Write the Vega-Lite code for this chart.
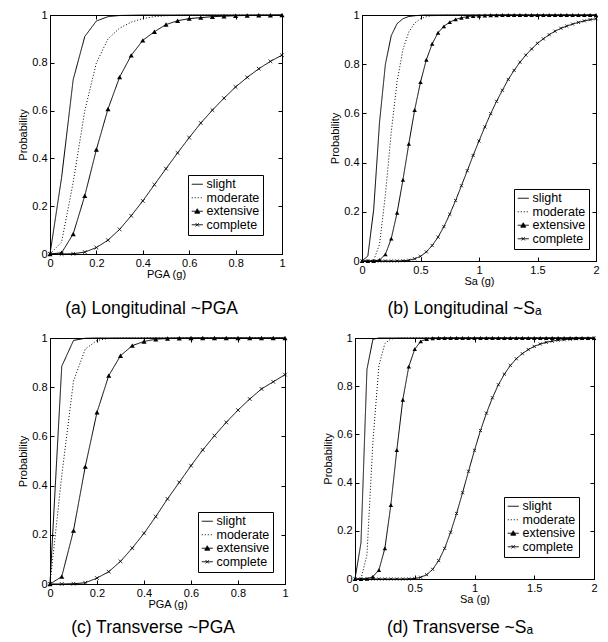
{
"$schema": "https://vega.github.io/schema/vega-lite/v6.json",
"padding": {"left": 17, "top": 8, "right": 2, "bottom": 2},
"background": "white",
"datasets": {
"a": [
{"x":0,"slight":0,"moderate":0,"extensive":0,"complete":0},
{"x":0.05,"slight":0.32,"moderate":0.05,"extensive":0.005,"complete":0},
{"x":0.1,"slight":0.73,"moderate":0.3,"extensive":0.084,"complete":0.001},
{"x":0.15,"slight":0.91,"moderate":0.6,"extensive":0.244,"complete":0.008},
{"x":0.2,"slight":0.975,"moderate":0.8,"extensive":0.437,"complete":0.027},
{"x":0.25,"slight":0.993,"moderate":0.9,"extensive":0.607,"complete":0.058},
{"x":0.3,"slight":0.998,"moderate":0.945,"extensive":0.74,"complete":0.103},
{"x":0.35,"slight":0.999,"moderate":0.97,"extensive":0.831,"complete":0.16},
{"x":0.4,"slight":1,"moderate":0.985,"extensive":0.894,"complete":0.222},
{"x":0.45,"slight":1,"moderate":0.993,"extensive":0.93,"complete":0.29},
{"x":0.5,"slight":1,"moderate":0.997,"extensive":0.96,"complete":0.357},
{"x":0.55,"slight":1,"moderate":0.999,"extensive":0.976,"complete":0.423},
{"x":0.6,"slight":1,"moderate":1,"extensive":0.985,"complete":0.487},
{"x":0.65,"slight":1,"moderate":1,"extensive":0.989,"complete":0.548},
{"x":0.7,"slight":1,"moderate":1,"extensive":0.993,"complete":0.602},
{"x":0.75,"slight":1,"moderate":1,"extensive":0.995,"complete":0.652},
{"x":0.8,"slight":1,"moderate":1,"extensive":0.997,"complete":0.699},
{"x":0.85,"slight":1,"moderate":1,"extensive":0.998,"complete":0.739},
{"x":0.9,"slight":1,"moderate":1,"extensive":0.999,"complete":0.775},
{"x":0.95,"slight":1,"moderate":1,"extensive":0.999,"complete":0.806},
{"x":1,"slight":1,"moderate":1,"extensive":1,"complete":0.832}
],
"b": [
{"x":0,"slight":0,"moderate":0,"extensive":0,"complete":0},
{"x":0.05,"slight":0.02,"moderate":0,"extensive":0,"complete":0},
{"x":0.1,"slight":0.21,"moderate":0.003,"extensive":0,"complete":0},
{"x":0.15,"slight":0.565,"moderate":0.068,"extensive":0.004,"complete":0},
{"x":0.2,"slight":0.8,"moderate":0.269,"extensive":0.027,"complete":0},
{"x":0.25,"slight":0.916,"moderate":0.524,"extensive":0.091,"complete":0},
{"x":0.3,"slight":0.965,"moderate":0.73,"extensive":0.196,"complete":0},
{"x":0.35,"slight":0.985,"moderate":0.86,"extensive":0.33,"complete":0.001},
{"x":0.4,"slight":0.994,"moderate":0.931,"extensive":0.476,"complete":0.003},
{"x":0.45,"slight":0.997,"moderate":0.967,"extensive":0.614,"complete":0.009},
{"x":0.5,"slight":0.999,"moderate":0.985,"extensive":0.727,"complete":0.019},
{"x":0.55,"slight":1,"moderate":0.993,"extensive":0.818,"complete":0.037},
{"x":0.6,"slight":1,"moderate":0.997,"extensive":0.883,"complete":0.063},
{"x":0.65,"slight":1,"moderate":0.998,"extensive":0.928,"complete":0.097},
{"x":0.7,"slight":1,"moderate":0.999,"extensive":0.954,"complete":0.14},
{"x":0.75,"slight":1,"moderate":1,"extensive":0.971,"complete":0.19},
{"x":0.8,"slight":1,"moderate":1,"extensive":0.982,"complete":0.246},
{"x":0.85,"slight":1,"moderate":1,"extensive":0.989,"complete":0.306},
{"x":0.9,"slight":1,"moderate":1,"extensive":0.993,"complete":0.367},
{"x":0.95,"slight":1,"moderate":1,"extensive":0.996,"complete":0.429},
{"x":1,"slight":1,"moderate":1,"extensive":0.997,"complete":0.488},
{"x":1.05,"slight":1,"moderate":1,"extensive":0.998,"complete":0.545},
{"x":1.1,"slight":1,"moderate":1,"extensive":0.999,"complete":0.599},
{"x":1.15,"slight":1,"moderate":1,"extensive":0.999,"complete":0.649},
{"x":1.2,"slight":1,"moderate":1,"extensive":1,"complete":0.694},
{"x":1.25,"slight":1,"moderate":1,"extensive":1,"complete":0.738},
{"x":1.3,"slight":1,"moderate":1,"extensive":1,"complete":0.775},
{"x":1.35,"slight":1,"moderate":1,"extensive":1,"complete":0.808},
{"x":1.4,"slight":1,"moderate":1,"extensive":1,"complete":0.837},
{"x":1.45,"slight":1,"moderate":1,"extensive":1,"complete":0.862},
{"x":1.5,"slight":1,"moderate":1,"extensive":1,"complete":0.885},
{"x":1.55,"slight":1,"moderate":1,"extensive":1,"complete":0.903},
{"x":1.6,"slight":1,"moderate":1,"extensive":1,"complete":0.92},
{"x":1.65,"slight":1,"moderate":1,"extensive":1,"complete":0.934},
{"x":1.7,"slight":1,"moderate":1,"extensive":1,"complete":0.946},
{"x":1.75,"slight":1,"moderate":1,"extensive":1,"complete":0.955},
{"x":1.8,"slight":1,"moderate":1,"extensive":1,"complete":0.963},
{"x":1.85,"slight":1,"moderate":1,"extensive":1,"complete":0.97},
{"x":1.9,"slight":1,"moderate":1,"extensive":1,"complete":0.976},
{"x":1.95,"slight":1,"moderate":1,"extensive":1,"complete":0.981},
{"x":2,"slight":1,"moderate":1,"extensive":1,"complete":0.985}
],
"c": [
{"x":0,"slight":0,"moderate":0,"extensive":0,"complete":0},
{"x":0.05,"slight":0.885,"moderate":0.44,"extensive":0.03,"complete":0},
{"x":0.1,"slight":0.99,"moderate":0.825,"extensive":0.217,"complete":0.001},
{"x":0.15,"slight":0.999,"moderate":0.955,"extensive":0.477,"complete":0.005},
{"x":0.2,"slight":1,"moderate":0.99,"extensive":0.698,"complete":0.024},
{"x":0.25,"slight":1,"moderate":0.998,"extensive":0.847,"complete":0.05},
{"x":0.3,"slight":1,"moderate":1,"extensive":0.928,"complete":0.092},
{"x":0.35,"slight":1,"moderate":1,"extensive":0.969,"complete":0.146},
{"x":0.4,"slight":1,"moderate":1,"extensive":0.986,"complete":0.206},
{"x":0.45,"slight":1,"moderate":1,"extensive":0.995,"complete":0.274},
{"x":0.5,"slight":1,"moderate":1,"extensive":0.998,"complete":0.346},
{"x":0.55,"slight":1,"moderate":1,"extensive":0.999,"complete":0.413},
{"x":0.6,"slight":1,"moderate":1,"extensive":1,"complete":0.481},
{"x":0.65,"slight":1,"moderate":1,"extensive":1,"complete":0.545},
{"x":0.7,"slight":1,"moderate":1,"extensive":1,"complete":0.603},
{"x":0.75,"slight":1,"moderate":1,"extensive":1,"complete":0.657},
{"x":0.8,"slight":1,"moderate":1,"extensive":1,"complete":0.707},
{"x":0.85,"slight":1,"moderate":1,"extensive":1,"complete":0.752},
{"x":0.9,"slight":1,"moderate":1,"extensive":1,"complete":0.793},
{"x":0.95,"slight":1,"moderate":1,"extensive":1,"complete":0.822},
{"x":1,"slight":1,"moderate":1,"extensive":1,"complete":0.851}
],
"d": [
{"x":0,"slight":0,"moderate":0,"extensive":0,"complete":0},
{"x":0.05,"slight":0.15,"moderate":0,"extensive":0,"complete":0},
{"x":0.1,"slight":0.87,"moderate":0.1,"extensive":0.001,"complete":0},
{"x":0.15,"slight":0.995,"moderate":0.57,"extensive":0.01,"complete":0},
{"x":0.2,"slight":1,"moderate":0.885,"extensive":0.037,"complete":0},
{"x":0.25,"slight":1,"moderate":0.977,"extensive":0.127,"complete":0},
{"x":0.3,"slight":1,"moderate":0.996,"extensive":0.307,"complete":0},
{"x":0.35,"slight":1,"moderate":0.999,"extensive":0.535,"complete":0},
{"x":0.4,"slight":1,"moderate":1,"extensive":0.744,"complete":0},
{"x":0.45,"slight":1,"moderate":1,"extensive":0.881,"complete":0.0005},
{"x":0.5,"slight":1,"moderate":1,"extensive":0.954,"complete":0.002},
{"x":0.55,"slight":1,"moderate":1,"extensive":0.986,"complete":0.007},
{"x":0.6,"slight":1,"moderate":1,"extensive":0.996,"complete":0.018},
{"x":0.65,"slight":1,"moderate":1,"extensive":0.999,"complete":0.04},
{"x":0.7,"slight":1,"moderate":1,"extensive":1,"complete":0.076},
{"x":0.75,"slight":1,"moderate":1,"extensive":1,"complete":0.127},
{"x":0.8,"slight":1,"moderate":1,"extensive":1,"complete":0.194},
{"x":0.85,"slight":1,"moderate":1,"extensive":1,"complete":0.272},
{"x":0.9,"slight":1,"moderate":1,"extensive":1,"complete":0.358},
{"x":0.95,"slight":1,"moderate":1,"extensive":1,"complete":0.447},
{"x":1,"slight":1,"moderate":1,"extensive":1,"complete":0.534},
{"x":1.05,"slight":1,"moderate":1,"extensive":1,"complete":0.616},
{"x":1.1,"slight":1,"moderate":1,"extensive":1,"complete":0.688},
{"x":1.15,"slight":1,"moderate":1,"extensive":1,"complete":0.752},
{"x":1.2,"slight":1,"moderate":1,"extensive":1,"complete":0.806},
{"x":1.25,"slight":1,"moderate":1,"extensive":1,"complete":0.85},
{"x":1.3,"slight":1,"moderate":1,"extensive":1,"complete":0.886},
{"x":1.35,"slight":1,"moderate":1,"extensive":1,"complete":0.914},
{"x":1.4,"slight":1,"moderate":1,"extensive":1,"complete":0.935},
{"x":1.45,"slight":1,"moderate":1,"extensive":1,"complete":0.952},
{"x":1.5,"slight":1,"moderate":1,"extensive":1,"complete":0.965},
{"x":1.55,"slight":1,"moderate":1,"extensive":1,"complete":0.975},
{"x":1.6,"slight":1,"moderate":1,"extensive":1,"complete":0.982},
{"x":1.65,"slight":1,"moderate":1,"extensive":1,"complete":0.987},
{"x":1.7,"slight":1,"moderate":1,"extensive":1,"complete":0.991},
{"x":1.75,"slight":1,"moderate":1,"extensive":1,"complete":0.993},
{"x":1.8,"slight":1,"moderate":1,"extensive":1,"complete":0.995},
{"x":1.85,"slight":1,"moderate":1,"extensive":1,"complete":0.997},
{"x":1.9,"slight":1,"moderate":1,"extensive":1,"complete":0.998},
{"x":1.95,"slight":1,"moderate":1,"extensive":1,"complete":0.998},
{"x":2,"slight":1,"moderate":1,"extensive":1,"complete":0.999}
]
},
"vconcat": [
{"hconcat": [
{
"width": 232, "height": 239,
"data": {"name": "a"},
"transform": [{"fold": ["slight","moderate","extensive","complete"], "as": ["series","p"]}],
"title": {"text": "(a) Longitudinal ~PGA", "offset": 21},
"layer": [
{"mark": {"type": "line", "color": "black", "strokeWidth": 1},
 "encoding": {
  "x": {"field": "x", "type": "quantitative", "scale": {"domain": [0,1], "nice": false}, "axis": {"title": "PGA (g)", "values": [0,0.2,0.4,0.6,0.8,1]}},
  "y": {"field": "p", "type": "quantitative", "scale": {"domain": [0,1], "nice": false}, "axis": {"title": "Probability", "values": [0,0.2,0.4,0.6,0.8,1]}},
  "strokeDash": {"field": "series", "type": "nominal", "scale": {"domain": ["slight","moderate","extensive","complete"], "range": [[1,0],[1,2],[1,0],[1,0]]},
   "legend": {"title": null, "orient": "none", "legendX": 138, "legendY": 160,
    "encode": {"symbols": {"update": {"shape": {"signal": "datum.value === 'extensive' ? 'M-1,0L1,0M-0.45,0.35L0,-0.45L0.45,0.35Z' : datum.value === 'complete' ? 'M-1,0L1,0M-0.3,-0.3L0.3,0.3M-0.3,0.3L0.3,-0.3' : 'M-1,0L1,0'"}, "fill": {"value": "black"}, "stroke": {"value": "black"}, "strokeWidth": {"value": 1}, "opacity": {"value": 1}}}}}}
 }},
{"transform": [{"filter": "datum.series === 'extensive'"}],
 "mark": {"type": "point", "shape": "triangle-up", "filled": true, "color": "black", "size": 26, "opacity": 1},
 "encoding": {"x": {"field": "x", "type": "quantitative", "axis": null}, "y": {"field": "p", "type": "quantitative", "axis": null}}},
{"transform": [{"filter": "datum.series === 'complete'"}],
 "mark": {"type": "point", "shape": "M-1,-1L1,1M-1,1L1,-1", "filled": false, "color": "black", "size": 14, "strokeWidth": 0.8, "opacity": 1},
 "encoding": {"x": {"field": "x", "type": "quantitative", "axis": null}, "y": {"field": "p", "type": "quantitative", "axis": null}}},
{"mark": {"type": "point", "opacity": 0},
 "encoding": {"x": {"field": "x", "type": "quantitative", "axis": {"orient": "top", "labels": false, "title": null, "domain": false, "values": [0,0.2,0.4,0.6,0.8,1]}},
  "y": {"field": "p", "type": "quantitative", "axis": {"orient": "right", "labels": false, "title": null, "domain": false, "values": [0,0.2,0.4,0.6,0.8,1]}}}}
],
"resolve": {"axis": {"x": "independent", "y": "independent"}}
},
{
"width": 234, "height": 246,
"data": {"name": "b"},
"transform": [{"fold": ["slight","moderate","extensive","complete"], "as": ["series","p"]}],
"title": {"text": "(b) Longitudinal ~Sₐ", "offset": 14},
"layer": [
{"mark": {"type": "line", "color": "black", "strokeWidth": 1},
 "encoding": {
  "x": {"field": "x", "type": "quantitative", "scale": {"domain": [0,2], "nice": false}, "axis": {"title": "Sa (g)", "values": [0,0.5,1,1.5,2]}},
  "y": {"field": "p", "type": "quantitative", "scale": {"domain": [0,1], "nice": false}, "axis": {"title": "Probability", "values": [0,0.2,0.4,0.6,0.8,1]}},
  "strokeDash": {"field": "series", "type": "nominal", "scale": {"domain": ["slight","moderate","extensive","complete"], "range": [[1,0],[1,2],[1,0],[1,0]]},
   "legend": {"title": null, "orient": "none", "legendX": 152, "legendY": 174,
    "encode": {"symbols": {"update": {"shape": {"signal": "datum.value === 'extensive' ? 'M-1,0L1,0M-0.45,0.35L0,-0.45L0.45,0.35Z' : datum.value === 'complete' ? 'M-1,0L1,0M-0.3,-0.3L0.3,0.3M-0.3,0.3L0.3,-0.3' : 'M-1,0L1,0'"}, "fill": {"value": "black"}, "stroke": {"value": "black"}, "strokeWidth": {"value": 1}, "opacity": {"value": 1}}}}}}
 }},
{"transform": [{"filter": "datum.series === 'extensive'"}],
 "mark": {"type": "point", "shape": "triangle-up", "filled": true, "color": "black", "size": 20, "opacity": 1},
 "encoding": {"x": {"field": "x", "type": "quantitative", "axis": null}, "y": {"field": "p", "type": "quantitative", "axis": null}}},
{"transform": [{"filter": "datum.series === 'complete'"}],
 "mark": {"type": "point", "shape": "M-1,-1L1,1M-1,1L1,-1", "filled": false, "color": "black", "size": 10, "strokeWidth": 0.8, "opacity": 1},
 "encoding": {"x": {"field": "x", "type": "quantitative", "axis": null}, "y": {"field": "p", "type": "quantitative", "axis": null}}},
{"mark": {"type": "point", "opacity": 0},
 "encoding": {"x": {"field": "x", "type": "quantitative", "axis": {"orient": "top", "labels": false, "title": null, "domain": false, "values": [0,0.5,1,1.5,2]}},
  "y": {"field": "p", "type": "quantitative", "axis": {"orient": "right", "labels": false, "title": null, "domain": false, "values": [0,0.2,0.4,0.6,0.8,1]}}}}
],
"resolve": {"axis": {"x": "independent", "y": "independent"}}
}
], "spacing": 43, "resolve": {"scale": {"strokeDash": "independent"}, "legend": {"strokeDash": "independent"}}},
{"hconcat": [
{
"width": 235, "height": 246,
"data": {"name": "c"},
"transform": [{"fold": ["slight","moderate","extensive","complete"], "as": ["series","p"]}],
"title": {"text": "(c) Transverse ~PGA", "offset": 10},
"layer": [
{"mark": {"type": "line", "color": "black", "strokeWidth": 1},
 "encoding": {
  "x": {"field": "x", "type": "quantitative", "scale": {"domain": [0,1], "nice": false}, "axis": {"title": "PGA (g)", "values": [0,0.2,0.4,0.6,0.8,1]}},
  "y": {"field": "p", "type": "quantitative", "scale": {"domain": [0,1], "nice": false}, "axis": {"title": "Probability", "values": [0,0.2,0.4,0.6,0.8,1]}},
  "strokeDash": {"field": "series", "type": "nominal", "scale": {"domain": ["slight","moderate","extensive","complete"], "range": [[1,0],[1,2],[1,0],[1,0]]},
   "legend": {"title": null, "orient": "none", "legendX": 148, "legendY": 174,
    "encode": {"symbols": {"update": {"shape": {"signal": "datum.value === 'extensive' ? 'M-1,0L1,0M-0.45,0.35L0,-0.45L0.45,0.35Z' : datum.value === 'complete' ? 'M-1,0L1,0M-0.3,-0.3L0.3,0.3M-0.3,0.3L0.3,-0.3' : 'M-1,0L1,0'"}, "fill": {"value": "black"}, "stroke": {"value": "black"}, "strokeWidth": {"value": 1}, "opacity": {"value": 1}}}}}}
 }},
{"transform": [{"filter": "datum.series === 'extensive'"}],
 "mark": {"type": "point", "shape": "triangle-up", "filled": true, "color": "black", "size": 26, "opacity": 1},
 "encoding": {"x": {"field": "x", "type": "quantitative", "axis": null}, "y": {"field": "p", "type": "quantitative", "axis": null}}},
{"transform": [{"filter": "datum.series === 'complete'"}],
 "mark": {"type": "point", "shape": "M-1,-1L1,1M-1,1L1,-1", "filled": false, "color": "black", "size": 14, "strokeWidth": 0.8, "opacity": 1},
 "encoding": {"x": {"field": "x", "type": "quantitative", "axis": null}, "y": {"field": "p", "type": "quantitative", "axis": null}}},
{"mark": {"type": "point", "opacity": 0},
 "encoding": {"x": {"field": "x", "type": "quantitative", "axis": {"orient": "top", "labels": false, "title": null, "domain": false, "values": [0,0.2,0.4,0.6,0.8,1]}},
  "y": {"field": "p", "type": "quantitative", "axis": {"orient": "right", "labels": false, "title": null, "domain": false, "values": [0,0.2,0.4,0.6,0.8,1]}}}}
],
"resolve": {"axis": {"x": "independent", "y": "independent"}}
},
{
"width": 239, "height": 241,
"data": {"name": "d"},
"transform": [{"fold": ["slight","moderate","extensive","complete"], "as": ["series","p"]}],
"title": {"text": "(d) Transverse ~Sₐ", "offset": 15},
"layer": [
{"mark": {"type": "line", "color": "black", "strokeWidth": 1},
 "encoding": {
  "x": {"field": "x", "type": "quantitative", "scale": {"domain": [0,2], "nice": false}, "axis": {"title": "Sa (g)", "values": [0,0.5,1,1.5,2]}},
  "y": {"field": "p", "type": "quantitative", "scale": {"domain": [0,1], "nice": false}, "axis": {"title": "Probability", "values": [0,0.2,0.4,0.6,0.8,1]}},
  "strokeDash": {"field": "series", "type": "nominal", "scale": {"domain": ["slight","moderate","extensive","complete"], "range": [[1,0],[1,2],[1,0],[1,0]]},
   "legend": {"title": null, "orient": "none", "legendX": 149, "legendY": 159,
    "encode": {"symbols": {"update": {"shape": {"signal": "datum.value === 'extensive' ? 'M-1,0L1,0M-0.45,0.35L0,-0.45L0.45,0.35Z' : datum.value === 'complete' ? 'M-1,0L1,0M-0.3,-0.3L0.3,0.3M-0.3,0.3L0.3,-0.3' : 'M-1,0L1,0'"}, "fill": {"value": "black"}, "stroke": {"value": "black"}, "strokeWidth": {"value": 1}, "opacity": {"value": 1}}}}}}
 }},
{"transform": [{"filter": "datum.series === 'extensive'"}],
 "mark": {"type": "point", "shape": "triangle-up", "filled": true, "color": "black", "size": 20, "opacity": 1},
 "encoding": {"x": {"field": "x", "type": "quantitative", "axis": null}, "y": {"field": "p", "type": "quantitative", "axis": null}}},
{"transform": [{"filter": "datum.series === 'complete'"}],
 "mark": {"type": "point", "shape": "M-1,-1L1,1M-1,1L1,-1", "filled": false, "color": "black", "size": 10, "strokeWidth": 0.8, "opacity": 1},
 "encoding": {"x": {"field": "x", "type": "quantitative", "axis": null}, "y": {"field": "p", "type": "quantitative", "axis": null}}},
{"mark": {"type": "point", "opacity": 0},
 "encoding": {"x": {"field": "x", "type": "quantitative", "axis": {"orient": "top", "labels": false, "title": null, "domain": false, "values": [0,0.5,1,1.5,2]}},
  "y": {"field": "p", "type": "quantitative", "axis": {"orient": "right", "labels": false, "title": null, "domain": false, "values": [0,0.2,0.4,0.6,0.8,1]}}}}
],
"resolve": {"axis": {"x": "independent", "y": "independent"}}
}
], "spacing": 33, "resolve": {"scale": {"strokeDash": "independent"}, "legend": {"strokeDash": "independent"}}}
],
"spacing": 13,
"resolve": {"scale": {"strokeDash": "independent"}, "legend": {"strokeDash": "independent"}},
"config": {
 "font": "Liberation Sans",
 "view": {"stroke": "black", "strokeWidth": 1},
 "axis": {"grid": false, "domainColor": "black", "domainWidth": 1, "tickColor": "black", "tickSize": -4, "tickWidth": 1, "labelPadding": 7, "labelFontSize": 11, "labelColor": "black", "labelFont": "Liberation Sans", "labelFlush": false, "labelOverlap": false, "format": "~g", "titleFontSize": 11, "titleFontWeight": "normal", "titleColor": "black", "titleFont": "Liberation Sans"},
 "axisX": {"titlePadding": 0},
 "axisY": {"titlePadding": 3},
 "legend": {"labelFontSize": 12.5, "labelFont": "Liberation Sans", "labelColor": "black", "strokeColor": "black", "fillColor": "white", "padding": 3, "rowPadding": 0.5, "symbolStrokeColor": "black", "symbolStrokeWidth": 1, "symbolSize": 121, "labelOffset": 3},
 "title": {"fontSize": 17.5, "font": "Liberation Sans", "fontWeight": "normal", "color": "black", "orient": "bottom", "anchor": "middle", "frame": "bounds", "offset": 18}
}
}
